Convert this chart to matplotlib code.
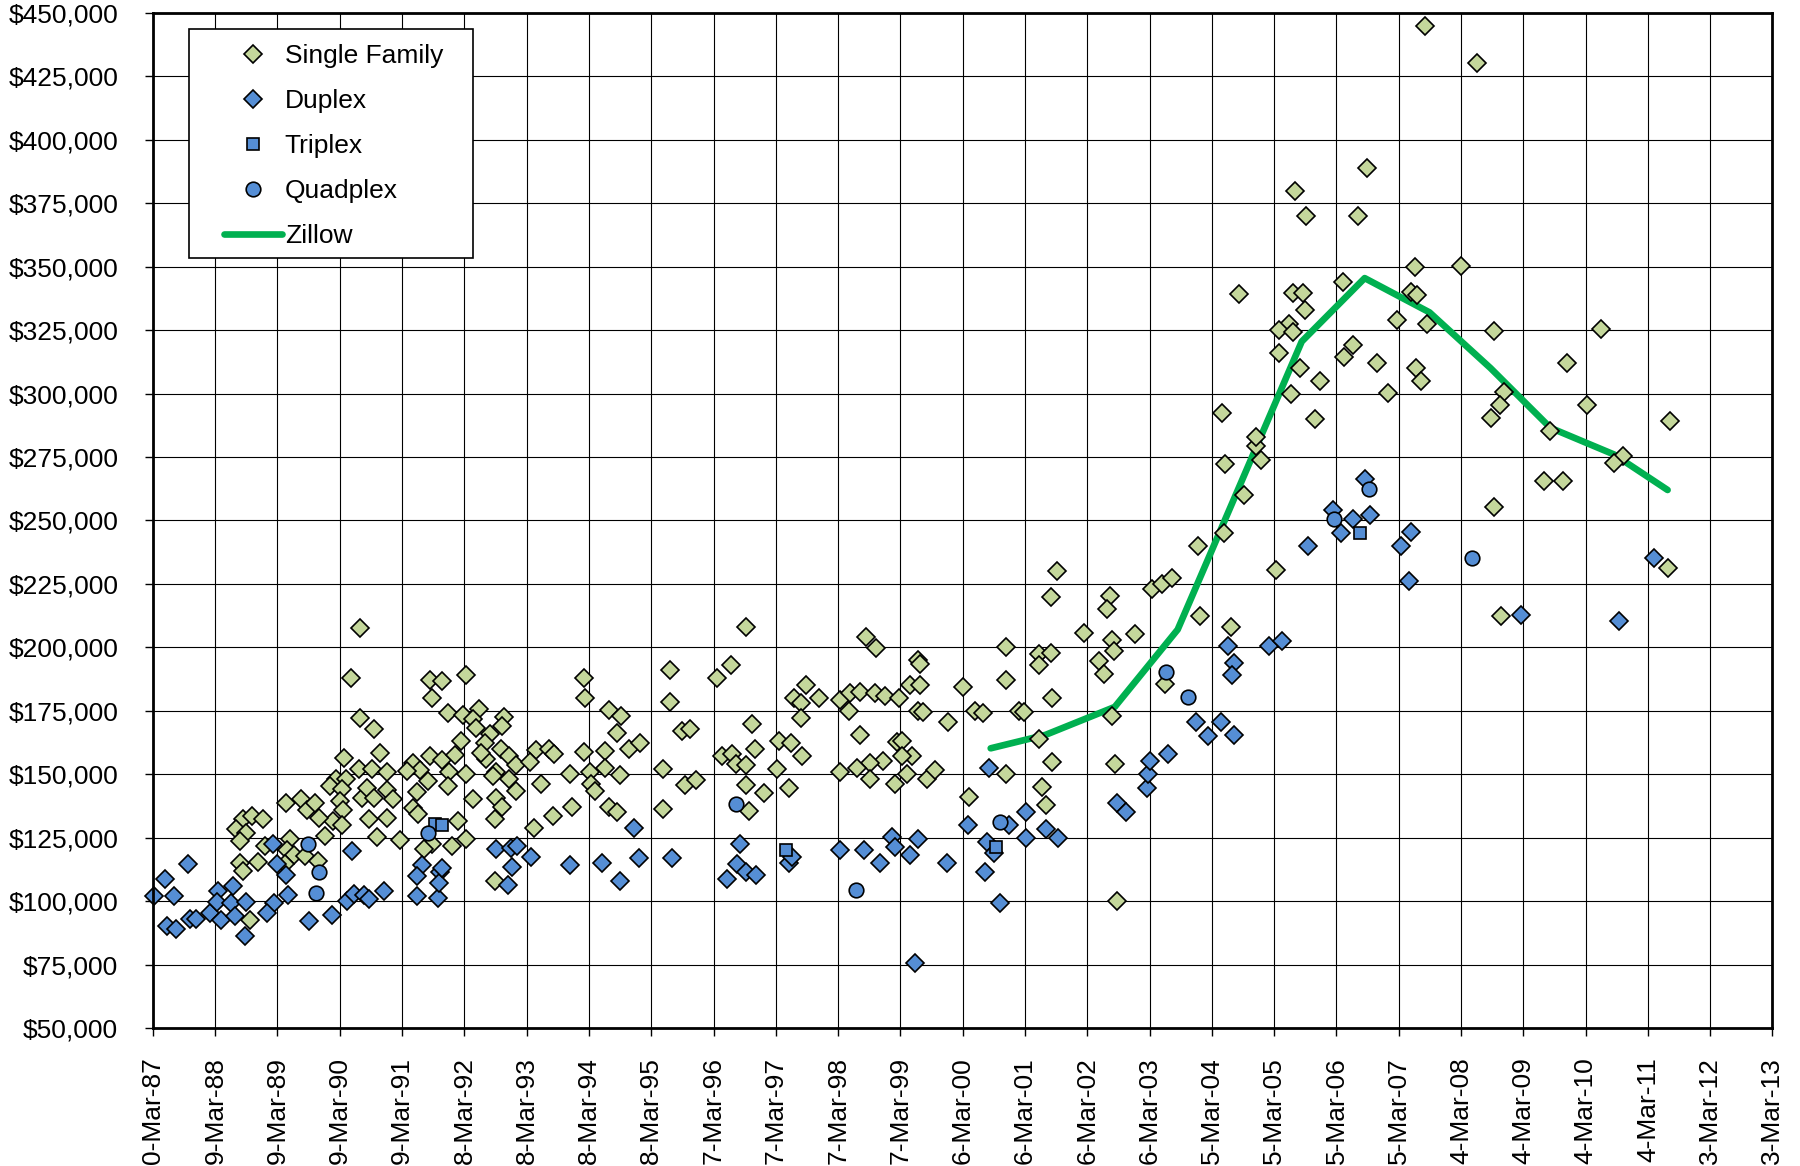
import numpy as np
import pandas as pd
import matplotlib
matplotlib.use("Agg")
import matplotlib.pyplot as plt
from matplotlib.ticker import FuncFormatter
from matplotlib.patches import Rectangle
from matplotlib.legend_handler import HandlerLine2D


# =====================================================
# DATA  (sale date as decimal year, price in $1000)
# =====================================================

single_family_year = [
    1990.56, 1990.41, 1990.56, 1990.79, 1990.30, 1990.89, 1990.55, 1990.76,
    1991.00, 1990.17, 1990.34, 1990.08, 1990.27, 1990.59, 1990.67, 1990.79,
    1991.00, 1991.09, 1990.24, 1990.29, 1990.13, 1990.27, 1990.00, 1990.71,
    1991.00, 1990.83, 1991.20, 1989.38, 1989.61, 1989.71, 1989.84, 1989.91,
    1988.68, 1988.83, 1989.00, 1988.58, 1988.73, 1988.64, 1989.44, 1989.04,
    1989.39, 1989.50, 1989.68, 1989.89, 1988.63, 1988.92, 1988.68, 1989.36,
    1988.80, 1991.68, 1991.88, 1992.26, 1991.71, 1991.97, 1992.22, 1992.19,
    1991.68, 1991.88, 1991.99, 1992.26, 1991.42, 1991.52, 1991.66, 1991.47,
    1991.42, 1991.98, 1992.14, 1991.72, 1992.03, 1992.27, 1991.31, 1992.09,
    1991.59, 1991.50,
    1992.47, 1992.37, 1992.88, 1992.84, 1992.43, 1992.65, 1992.56, 1992.83,
    1992.96, 1992.59, 1992.50, 1993.07, 1992.75, 1992.70, 1992.95, 1993.07,
    1992.38, 1992.75, 1992.84, 1992.73, 1993.39, 1993.59, 1993.68, 1993.29,
    1993.47, 1993.35, 1993.66, 1993.93, 1993.97, 1994.16, 1994.17, 1994.15,
    1994.25, 1994.26, 1994.34, 1994.49, 1994.49, 1994.56, 1994.75, 1994.68,
    1994.88, 1995.05, 1994.73, 1994.56, 1994.69, 1995.53, 1995.53, 1995.42,
    1995.43, 1995.72, 1995.86, 1995.78, 1995.95, 1996.29, 1996.52, 1996.75,
    1996.85, 1996.90, 1996.37, 1996.53, 1996.60, 1996.76, 1996.75, 1996.80,
    1997.04, 1997.25, 1997.29, 1997.47, 1997.45, 1997.52, 1997.64, 1997.64,
    1992.73,
    1997.71, 1997.92, 1997.65, 1998.68, 1998.84, 1999.52, 1999.54, 1999.39,
    1999.55, 1998.26, 1998.42, 1998.59, 1998.83, 1998.99, 1999.21, 1998.40,
    1999.52, 1999.59, 2000.00, 2000.24, 2000.43, 2000.56, 2000.93, 2000.93,
    2001.13, 2001.21, 2001.46, 2001.65, 2001.46, 2001.67, 2002.17, 1998.59,
    1999.18, 1999.25, 1999.42, 1999.25, 1998.96, 1998.75, 1998.53, 1998.26,
    1998.75, 1999.15, 1999.34, 1999.66, 1999.79, 2000.34, 2000.93, 2001.46,
    2001.66, 2001.51, 2001.57, 2001.64, 2001.74, 2002.42, 2002.50,
    2002.59, 2002.54, 2002.62, 2002.66, 2002.62, 2002.68, 2002.70, 2003.00,
    2003.27, 2003.43, 2003.59, 2003.48, 2004.04, 2004.54, 2004.00, 2004.43,
    2004.75, 2004.44, 2005.01, 2004.93, 2004.94, 2005.26, 2004.39,
    2007.65, 2008.48, 2006.72, 2005.57, 2005.74, 2006.57, 2007.48, 2008.22,
    2006.34, 2004.67, 2005.53, 2005.69, 2005.73, 2007.42, 2007.52, 2005.46,
    2005.30, 2005.53, 2005.31, 2007.20, 2007.68, 2006.49, 2006.35, 2006.88,
    2005.65, 2005.96, 2005.50, 2007.06, 2007.51, 2007.58, 2005.89,
    2008.76, 2010.47, 2009.92, 2008.92, 2008.85, 2008.71, 2010.25, 2009.66,
    2010.83, 2010.68, 2011.58, 2009.56, 2009.86, 2008.76, 2008.86, 2011.54,
]

single_family_price_k = [
    207.5, 188.0, 172.0, 168.0, 156.4, 158.3, 152.2, 152.2,
    150.9, 148.0, 148.0, 145.4, 144.3, 140.7, 144.6, 140.7,
    143.6, 140.4, 139.6, 136.0, 131.7, 130.1, 125.7, 132.5,
    132.9, 125.4, 124.1, 138.6, 140.4, 135.7, 138.6, 132.8,
    132.2, 133.6, 132.5, 128.3, 127.0, 123.7, 124.3, 121.7,
    120.1, 118.0, 117.8, 115.7, 115.1, 115.4, 112.0, 114.5,
    92.5, 187.0, 186.7, 189.0, 180.1, 174.3, 173.3, 163.2,
    157.2, 155.7, 150.9, 150.0, 154.6, 151.7, 147.4, 142.8,
    136.8, 145.4, 131.6, 122.4, 121.7, 124.6, 151.4, 157.5,
    120.7, 134.2,
    175.7, 171.7, 172.4, 169.0, 168.4, 165.8, 162.2, 159.9,
    157.2, 155.9, 158.5, 153.6, 150.7, 149.3, 148.0, 143.4,
    140.1, 140.8, 137.2, 132.2, 159.6, 160.1, 157.9, 154.9,
    146.1, 128.6, 133.6, 150.0, 137.2, 187.8, 179.9, 158.8,
    150.9, 146.1, 143.4, 159.2, 152.5, 175.4, 173.0, 166.4,
    160.1, 162.2, 149.6, 137.2, 135.1, 191.1, 178.6, 152.0,
    136.4, 167.1, 167.8, 145.7, 147.6, 188.0, 193.0, 208.0,
    169.6, 160.1, 157.2, 157.9, 154.0, 153.6, 145.7, 135.4,
    142.5, 152.0, 163.2, 162.2, 144.7, 180.0, 178.0, 172.0,
    107.9,
    185.1, 179.9, 157.0, 204.2, 199.9, 195.1, 193.4, 185.1,
    185.1, 179.3, 182.0, 182.2, 182.0, 180.9, 179.9, 175.0,
    175.0, 174.5, 170.4, 184.2, 175.0, 174.1, 200.0, 187.2,
    175.0, 174.5, 197.4, 197.6, 193.0, 180.1, 205.5, 165.6,
    162.5, 163.2, 157.2, 157.2, 155.3, 154.6, 152.6, 150.9,
    148.0, 146.1, 150.0, 148.0, 151.7, 141.0, 150.0, 163.8,
    154.9, 145.1, 137.9, 220.0, 230.0, 194.7, 189.5,
    220.4, 215.1, 203.0, 198.7, 173.0, 154.0, 100.0, 205.3,
    223.0, 225.0, 227.2, 185.5, 212.2, 207.9, 240.1, 245.1,
    260.1, 272.4, 273.7, 279.3, 282.8, 230.3, 292.2,
    444.9, 430.4, 389.0, 379.9, 369.9, 369.9, 350.0, 350.1,
    344.0, 339.1, 339.7, 339.7, 333.1, 340.2, 338.7, 327.3,
    325.0, 324.3, 316.0, 328.9, 327.3, 319.0, 314.5, 312.2,
    310.0, 305.0, 299.8, 300.2, 310.0, 305.0, 290.0,
    324.7, 325.6, 312.1, 300.7, 295.4, 290.5, 295.4, 285.1,
    275.3, 272.5, 289.2, 265.5, 265.5, 255.2, 212.3, 231.1,
]

duplex_year = [
    1987.80, 1987.44, 1987.26, 1987.58, 1987.46, 1987.61, 1987.84, 1987.93,
    1988.16, 1988.34, 1988.29, 1988.26, 1988.53, 1988.50, 1988.56, 1988.74,
    1988.72, 1989.16, 1989.23, 1989.37, 1989.40, 1989.18, 1989.07, 1989.74,
    1990.11, 1990.43, 1990.35, 1990.46, 1990.62, 1990.70, 1990.94, 1991.47,
    1991.82, 1991.55, 1991.47, 1991.84, 1991.83, 1991.88, 1992.74, 1992.99,
    1993.08, 1993.00, 1992.93, 1993.31, 1993.93, 1994.45, 1994.74, 1994.96,
    1995.03, 1995.56, 1996.66, 1996.61, 1996.76, 1996.92, 1996.45, 1997.45,
    1997.50, 1998.27, 1998.64, 1998.90, 1999.10, 1999.15, 1999.52, 1999.39,
    1999.98, 1999.47, 2000.31, 2000.66, 2000.62, 2000.73, 2000.59, 2000.83,
    2000.97, 2001.25, 2001.25, 2001.56, 2001.76, 2002.70, 2002.85, 2003.18,
    2003.20, 2003.24, 2003.53, 2003.98, 2004.16, 2004.38, 2004.58, 2004.48,
    2004.58, 2004.55, 2005.14, 2005.36, 2005.77, 2006.17, 2006.30, 2006.50,
    2006.76, 2006.69, 2007.26, 2007.39, 2007.43, 2009.18, 2010.76, 2011.32,
]

duplex_price_k = [
    114.5, 108.8, 102.0, 102.0, 90.1, 88.8, 92.8, 92.8,
    95.4, 92.5, 104.0, 99.5, 106.0, 99.1, 94.3, 99.6,
    86.4, 122.4, 114.5, 110.1, 102.2, 99.3, 95.4, 92.1,
    94.7, 119.7, 100.0, 102.6, 102.2, 100.7, 104.0, 102.0,
    101.3, 114.1, 109.9, 111.4, 107.2, 113.0, 120.4, 121.1,
    121.7, 113.6, 106.2, 117.5, 114.1, 115.1, 107.9, 128.8,
    117.1, 117.1, 122.4, 114.7, 111.4, 110.1, 108.6, 115.1,
    117.5, 120.1, 120.1, 114.9, 125.4, 121.4, 124.3, 118.0,
    115.1, 75.4, 130.0, 152.6, 123.3, 119.1, 111.6, 99.1,
    129.9, 135.1, 125.0, 128.3, 125.0, 138.8, 135.1, 144.7,
    150.0, 155.3, 157.9, 170.4, 165.1, 170.4, 165.4, 200.4,
    193.8, 189.1, 200.4, 202.4, 240.1, 254.3, 245.1, 250.7,
    252.2, 266.4, 240.1, 226.3, 245.3, 212.6, 210.3, 235.2,
]

triplex_year = [1991.76, 1991.88, 1997.40, 2000.77, 2006.61]
triplex_price_k = [130.5, 130.0, 120.1, 121.3, 245.0]

quadplex_year = [
    1989.73, 1989.91, 1989.85, 1991.66, 1996.59, 1998.52,
    2000.83, 2003.50, 2003.85, 2006.19, 2006.75, 2008.40,
]
quadplex_price_k = [
    122.4, 111.4, 103.3, 127.0, 138.2, 104.2,
    131.2, 190.1, 180.3, 250.7, 262.2, 235.2,
]

zillow_year = [
    2000.68, 2001.56, 2002.67, 2003.68, 2004.68, 2005.67,
    2006.68, 2007.72, 2008.70, 2009.66, 2010.68, 2011.54,
]
zillow_price_k = [
    160.2, 165.5, 176.5, 207.0, 264.0, 320.5,
    345.5, 332.0, 310.0, 286.5, 276.0, 262.0,
]

tick_labels = [
    "0-Mar-87", "9-Mar-88", "9-Mar-89", "9-Mar-90", "9-Mar-91",
    "8-Mar-92", "8-Mar-93", "8-Mar-94", "8-Mar-95", "7-Mar-96",
    "7-Mar-97", "7-Mar-98", "7-Mar-99", "6-Mar-00", "6-Mar-01",
    "6-Mar-02", "6-Mar-03", "5-Mar-04", "5-Mar-05", "5-Mar-06",
    "5-Mar-07", "4-Mar-08", "4-Mar-09", "4-Mar-10", "4-Mar-11",
    "3-Mar-12", "3-Mar-13",
]


def decimal_year(ts):

    start = pd.Timestamp(year=ts.year, month=1, day=1)
    end = pd.Timestamp(year=ts.year + 1, month=1, day=1)

    return ts.year + (ts - start) / (end - start)


# ticks every 365 days from 30-Mar-87 (Excel date axis)
tick_positions = [
    decimal_year(pd.Timestamp("1987-03-30") + pd.Timedelta(days=365 * k))
    for k in range(len(tick_labels))
]


# =====================================================
# PLOT
# =====================================================

plt.rcParams["font.family"] = ["Liberation Sans", "DejaVu Sans"]

fig = plt.figure(
    figsize=(18, 11.66),
    dpi=100
)

ax = fig.add_axes([0.085, 0.1184, 0.8997, 0.8705])

zillow_line, = ax.plot(
    zillow_year,
    np.array(zillow_price_k) * 1000,
    color="#00B050",
    lw=4.8,
    solid_capstyle="round",
    zorder=3
)

marker_style = dict(
    ls="none",
    mec="black",
    mew=1.2,
    clip_on=False
)

sf_pts, = ax.plot(
    single_family_year,
    np.array(single_family_price_k) * 1000,
    marker="D",
    ms=9,
    mfc="#C4D79B",
    zorder=4,
    **marker_style
)

duplex_pts, = ax.plot(
    duplex_year,
    np.array(duplex_price_k) * 1000,
    marker="D",
    ms=9,
    mfc="#558ED5",
    zorder=5,
    **marker_style
)

triplex_pts, = ax.plot(
    triplex_year,
    np.array(triplex_price_k) * 1000,
    marker="s",
    ms=9,
    mfc="#558ED5",
    zorder=6,
    **marker_style
)

quadplex_pts, = ax.plot(
    quadplex_year,
    np.array(quadplex_price_k) * 1000,
    marker="o",
    ms=10.5,
    mfc="#558ED5",
    zorder=7,
    **marker_style
)

ax.set_xlim(tick_positions[0], tick_positions[-1])
ax.set_ylim(50000, 450000)

ax.set_xticks(tick_positions)
ax.set_xticklabels(tick_labels, rotation=90)
ax.set_yticks(np.arange(50000, 450001, 25000))
ax.yaxis.set_major_formatter(FuncFormatter(lambda v, p: f"${v:,.0f}"))

ax.grid(True, color="black", lw=0.8)
ax.set_axisbelow(True)

ax.tick_params(
    axis="both",
    direction="out",
    length=6,
    width=1,
    labelsize=19,
    colors="black"
)
ax.tick_params(axis="x", pad=15)
ax.tick_params(axis="y", pad=19)

for spine in ax.spines.values():
    spine.set_linewidth(2)
    spine.set_color("black")
    spine.set_zorder(8)

# legend box drawn separately so it can be wider than its contents
ax.add_patch(Rectangle(
    (0.0222, 0.7586),
    0.1754,
    0.2256,
    transform=ax.transAxes,
    facecolor="white",
    edgecolor="black",
    lw=1.2,
    zorder=9,
    clip_on=False
))

pad_handler = HandlerLine2D(xpad=0.75)

leg = ax.legend(
    [sf_pts, duplex_pts, triplex_pts, quadplex_pts, zillow_line],
    ["Single Family", "Duplex", "Triplex", "Quadplex", "Zillow"],
    loc="upper left",
    bbox_to_anchor=(0.0222, 0.9842),
    borderaxespad=0,
    fontsize=19,
    frameon=False,
    borderpad=0.56,
    labelspacing=0.8,
    handlelength=2.95,
    handletextpad=0.12,
    numpoints=1,
    handler_map={
        sf_pts: pad_handler,
        duplex_pts: pad_handler,
        triplex_pts: pad_handler,
        quadplex_pts: pad_handler,
        zillow_line: pad_handler
    }
)
leg.set_zorder(10)

plt.savefig("out.png", dpi=100)
plt.close()
